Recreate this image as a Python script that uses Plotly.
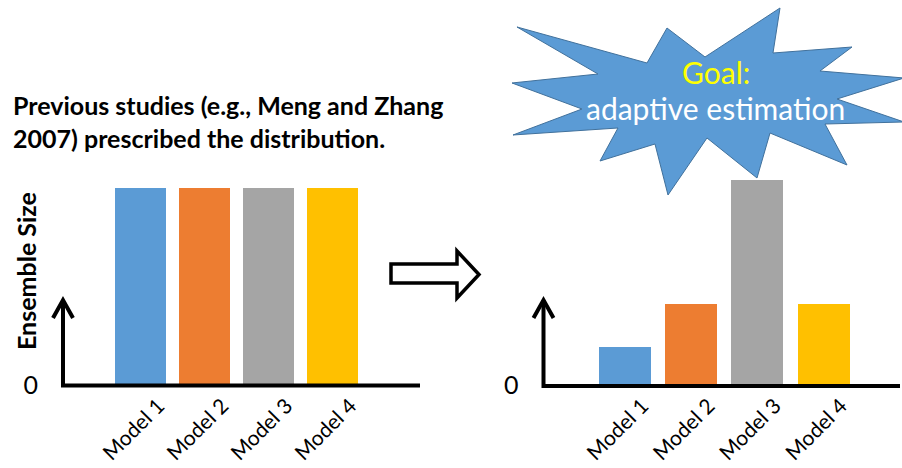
import plotly.graph_objects as go

# ---- data -------------------------------------------------------------
models = ["Model 1", "Model 2", "Model 3", "Model 4"]
prescribed_size = [20, 20, 20, 20]      # fixed ensemble size per model
adaptive_size = [3.9, 8.2, 20.8, 8.2]   # adaptively estimated ensemble size
bar_colors = ["#5B9BD5", "#ED7D31", "#A5A5A5", "#FFC000"]
zero_tick = ["0"]

# ---- canvas helpers (pixel -> paper) ----------------------------------
W, H = 902, 468
FONT = "Lato"


def px(x):
    return x / W


def py(y):
    return 1 - y / H


def path(points, close=False):
    d = "M " + " L ".join(f"{px(x):.5f},{py(y):.5f}" for x, y in points)
    return d + (" Z" if close else "")


fig = go.Figure()
fig.add_trace(go.Bar(x=list(range(len(models))), y=prescribed_size,
                     marker=dict(color=bar_colors, line=dict(width=0)),
                     width=0.8, xaxis="x", yaxis="y", showlegend=False))
fig.add_trace(go.Bar(x=list(range(len(models))), y=adaptive_size,
                     marker=dict(color=bar_colors, line=dict(width=0)),
                     width=0.786, xaxis="x2", yaxis="y2", showlegend=False))

xcommon = dict(tickvals=list(range(len(models))), ticktext=models,
               tickangle=-45, showgrid=False, zeroline=False, showline=False,
               ticks="", automargin=False, ticklabelshift=18,
               ticklabelstandoff=3,
               tickfont=dict(family=FONT, size=21, color="black"))
ycommon = dict(range=[0, 39], tickvals=[0], ticktext=zero_tick,
               showgrid=False, zeroline=False, showline=False, ticks="",
               automargin=False, ticklabelstandoff=24,
               tickfont=dict(family=FONT, size=25, color="black"),
               domain=[py(385.5), 1])

fig.update_layout(
    width=W, height=H,
    margin=dict(l=0, r=0, t=0, b=0),
    paper_bgcolor="white", plot_bgcolor="rgba(0,0,0,0)",
    bargap=0,
    xaxis=dict(domain=[px(63), px(420)], range=[-1.21, 4.37], anchor="y",
               **xcommon),
    yaxis=dict(anchor="x", **ycommon),
    xaxis2=dict(domain=[px(543.5), px(900)], range=[-1.224, 4.163],
                anchor="y2", **xcommon),
    yaxis2=dict(anchor="x2", **ycommon),
)

# ---- hand-drawn axes with open arrowheads -----------------------------
axis_line = dict(color="black", width=4)
for x0, x1, yb in [(63, 420, 385.5), (543.5, 900, 386)]:
    fig.add_shape(type="path", xref="paper", yref="paper", line=axis_line,
                  path=path([(x1, yb), (x0, yb), (x0, 300)]))
    fig.add_shape(type="path", xref="paper", yref="paper", line=axis_line,
                  path=path([(x0 - 10, 318), (x0, 300), (x0 + 10, 318)]))

# ---- hollow block arrow between panels --------------------------------
fig.add_shape(type="path", xref="paper", yref="paper",
              line=dict(color="black", width=3.5), fillcolor="white",
              path=path([(391, 264), (457, 264), (457, 251), (479, 274.5),
                         (457, 298), (457, 283), (391, 283)], close=True))

# ---- starburst callout -------------------------------------------------
burst = [(780, 8), (773, 53), (852, 47), (820, 71), (904, 78), (837, 99),
         (904, 122), (825, 124), (847, 165), (770, 133), (757, 178),
         (707, 138), (668, 195), (655, 144), (600, 161), (618, 128),
         (513, 135), (582, 109), (512, 83), (598, 74), (517, 27),
         (647, 63), (667, 28), (705, 57)]
fig.add_shape(type="path", xref="paper", yref="paper",
              line=dict(color="#41719C", width=1), fillcolor="#5B9BD5",
              path=path(burst, close=True))

# ---- text --------------------------------------------------------------
def label(text, x, y, size, color="black", bold=False, xanchor="center",
          angle=0):
    fig.add_annotation(text=f"<b>{text}</b>" if bold else text,
                       x=px(x), y=py(y), xref="paper", yref="paper",
                       xanchor=xanchor, yanchor="middle", showarrow=False,
                       textangle=angle,
                       font=dict(family=FONT, size=size, color=color))


label("Goal:", 716, 72, 30, color="#FFFF00")
label("adaptive estimation", 715, 108, 30, color="white")
label("Previous studies (e.g., Meng and Zhang", 11, 105, 25, bold=True,
      xanchor="left")
label("2007) prescribed the distribution.", 11, 138, 25, bold=True,
      xanchor="left")
label("Ensemble Size", 26, 271, 25, bold=True, angle=-90)

fig.write_html("out.html")
